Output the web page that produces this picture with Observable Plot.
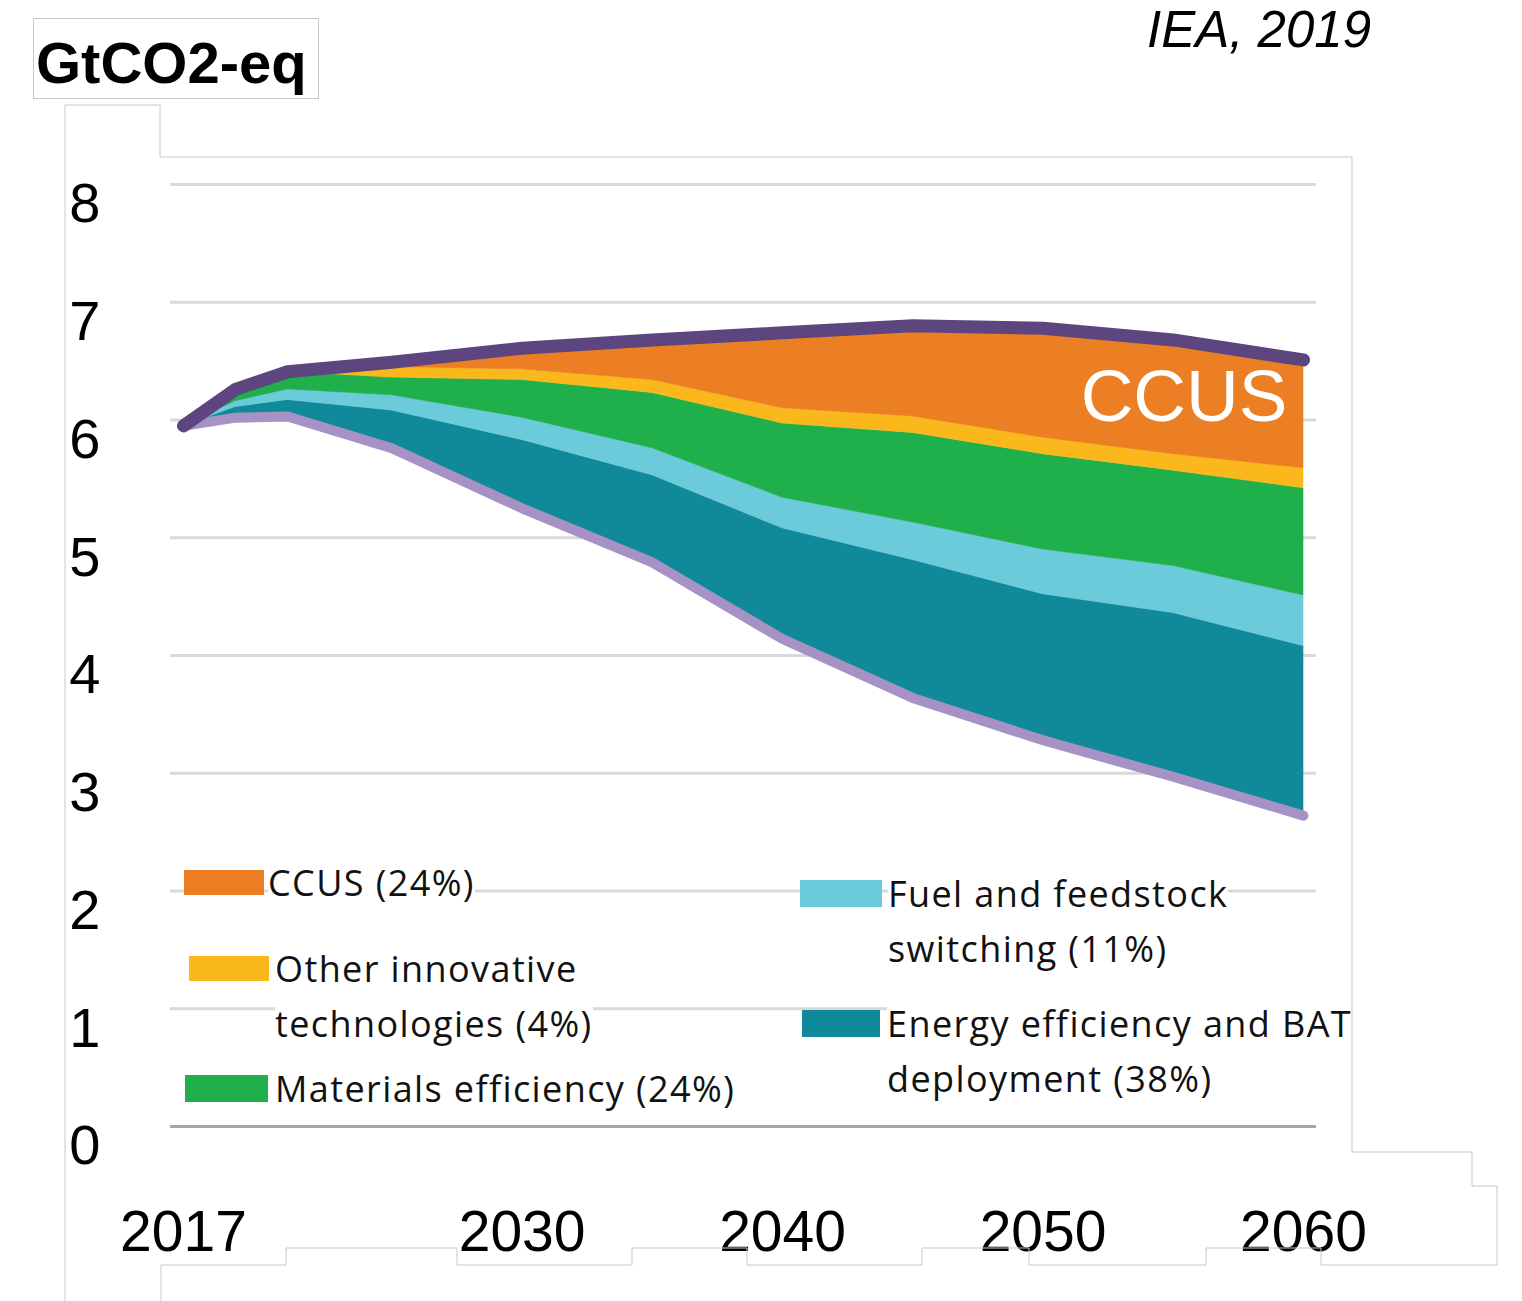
<!DOCTYPE html>
<html>
<head>
<meta charset="utf-8">
<script src="https://cdn.jsdelivr.net/npm/d3@7"></script>
<script src="https://cdn.jsdelivr.net/npm/@observablehq/plot@0.6"></script>
<style>
  html, body { margin: 0; padding: 0; background: #fff; }
  #wrap { position: relative; width: 1522px; height: 1301px; overflow: hidden; background: #fff; }
  #chart { position: absolute; left: 0; top: 0; }
  #deco { position: absolute; left: 0; top: 0; pointer-events: none; }
  .unit { position: absolute; left: 33px; top: 18px; width: 284px; height: 79px; border: 1px solid #c8c8c8; background: #fff; }
  .unit span { position: absolute; left: 2px; top: 15px; font-family: "Liberation Sans", Arial, sans-serif; font-weight: bold; font-size: 58px; line-height: 58px; color: #000; white-space: nowrap; }
  .source { position: absolute; left: 1147px; top: 4px; font-family: "Liberation Sans", Arial, sans-serif; font-style: italic; font-size: 51px; line-height: 51px; color: #000; white-space: nowrap; }
  .sw { position: absolute; }
  .lt { position: absolute; font-family: "Open Sans", "Noto Sans", sans-serif; font-size: 36px; letter-spacing: 1.4px; line-height: 55px; color: #111; background: #fff; white-space: nowrap; }
</style>
</head>
<body>
<div id="wrap">
  <div id="chart"></div>
  <div class="unit"><span id="unitText"></span></div>
  <div class="source" id="sourceText"></div>
  <div id="legend"></div>
  <svg id="deco" width="1522" height="1301">
    <path d="M65,1301 V105 H160 V157 H1352 V1152 H1472 V1186 H1497 V1265 H1321 V1248 H1206 V1265 H1029 V1248 H922 V1265 H747 V1248 H632 V1265 H457 V1248 H286 V1265 H161 V1301" fill="none" stroke="#c8c8c8" stroke-width="1"/>
  </svg>
</div>
<script>
// ---------------- data ----------------
const unitLabel = "GtCO2-eq";
const sourceLabel = "IEA, 2019";
const years = [2017, 2019, 2021, 2025, 2030, 2035, 2040, 2045, 2050, 2055, 2060];
// upper line (reference technology pathway)
const baseline    = [5.95, 6.26, 6.41, 6.49, 6.61, 6.68, 6.74, 6.80, 6.78, 6.68, 6.51];
// lower line (sustainable pathway)
const sustainable = [5.95, 6.02, 6.03, 5.76, 5.25, 4.79, 4.14, 3.64, 3.28, 2.97, 2.64];
// reduction wedges, stacked from the lower line upwards
const energyEfficiency = [0, 0.09, 0.14, 0.32, 0.58, 0.74, 0.94, 1.17, 1.24, 1.39, 1.44];
const fuelSwitching    = [0, 0.05, 0.09, 0.13, 0.19, 0.23, 0.26, 0.32, 0.38, 0.40, 0.43];
const materialsEff     = [0, 0.09, 0.15, 0.15, 0.32, 0.47, 0.63, 0.76, 0.81, 0.81, 0.91];
const otherInnovative  = [0, 0, 0, 0.09, 0.09, 0.11, 0.13, 0.14, 0.14, 0.14, 0.17];
const ccus             = [0, 0, 0, 0.04, 0.19, 0.35, 0.64, 0.76, 0.93, 0.97, 0.92];

const seriesNames  = ["Energy efficiency and BAT deployment", "Fuel and feedstock switching", "Materials efficiency", "Other innovative technologies", "CCUS"];
const seriesValues = [energyEfficiency, fuelSwitching, materialsEff, otherInnovative, ccus];
const seriesColors = ["#108998", "#6ccbdb", "#20b04b", "#fbb81d", "#ec7e23"];
const seriesShares = ["38%", "11%", "24%", "4%", "24%"];
const yTicks = [0, 1, 2, 3, 4, 5, 6, 7, 8];
const xTicks = [2017, 2030, 2040, 2050, 2060];
const wedgeLabel = "CCUS";

// legend text (as in the picture)
const legendLines = {
  "CCUS": ["CCUS (24%)"],
  "Other innovative technologies": ["Other innovative", "technologies (4%)"],
  "Materials efficiency": ["Materials efficiency (24%)"],
  "Fuel and feedstock switching": ["Fuel and feedstock", "switching (11%)"],
  "Energy efficiency and BAT deployment": ["Energy efficiency and BAT", "deployment (38%)"]
};
// legend layout (positions only)
const legendLayout = {
  "CCUS": {sx: 184, sy: 870, sw: 80, sh: 25, tx: 268, ty: 882},
  "Other innovative technologies": {sx: 189, sy: 956, sw: 80, sh: 25, tx: 275, ty: 968},
  "Materials efficiency": {sx: 185, sy: 1075, sw: 83, sh: 27, tx: 275, ty: 1088},
  "Fuel and feedstock switching": {sx: 800, sy: 880, sw: 82, sh: 27, tx: 888, ty: 893},
  "Energy efficiency and BAT deployment": {sx: 802, sy: 1010, sw: 78, sh: 27, tx: 887, ty: 1023}
};

// ---------------- build table ----------------
const rows = [];
years.forEach((yr, i) => {
  let cum = sustainable[i];
  seriesNames.forEach((name, k) => {
    const v = seriesValues[k][i];
    rows.push({year: yr, series: name, y1: cum, y2: cum + v});
    cum += v;
  });
});
const topLine = years.map((yr, i) => ({year: yr, v: baseline[i]}));
const lowLine = years.map((yr, i) => ({year: yr, v: sustainable[i]}));
const last = years.length - 1;
const labelRow = [{year: years[last], v: baseline[last] - ccus[last] / 2}];

const chart = Plot.plot({
  width: 1522,
  height: 1301,
  marginLeft: 170,
  marginRight: 206,
  marginTop: 184,
  marginBottom: 175,
  style: {fontFamily: "'Liberation Sans', Arial, sans-serif", color: "#000", background: "transparent"},
  x: {type: "linear", domain: [years[0], years[last]], insetLeft: 13, insetRight: 13, label: null},
  y: {domain: [0, 8], label: null},
  color: {domain: seriesNames, range: seriesColors},
  marks: [
    Plot.gridY(yTicks.filter(d => d > 0), {stroke: "#d9d9d9", strokeWidth: 3, strokeOpacity: 1}),
    Plot.ruleY([0], {stroke: "#a6a6a6", strokeWidth: 3}),
    Plot.areaY(rows, {x: "year", y1: "y1", y2: "y2", z: "series", fill: "series", stroke: "series", strokeWidth: 0.6}),
    Plot.line(lowLine, {x: "year", y: "v", stroke: "#a692c4", strokeWidth: 10, strokeLinecap: "round", strokeLinejoin: "round"}),
    Plot.line(topLine, {x: "year", y: "v", stroke: "#5d4580", strokeWidth: 13, strokeLinecap: "round", strokeLinejoin: "round"}),
    Plot.text(labelRow, {x: "year", y: "v", text: () => wedgeLabel, textAnchor: "end", dx: -16, dy: -16, fill: "#fff", fontSize: 73}),
    Plot.axisY(yTicks, {tickSize: 0, tickPadding: 70, fontSize: 56, dy: 20, tickFormat: d => String(d), label: null}),
    Plot.axisX(xTicks, {tickSize: 0, tickPadding: 84, fontSize: 57, tickFormat: d => String(d), label: null})
  ]
});
document.getElementById("chart").appendChild(chart);

document.getElementById("unitText").textContent = unitLabel;
document.getElementById("sourceText").textContent = sourceLabel;

// legend
const legend = document.getElementById("legend");
seriesNames.slice().reverse().forEach(name => {
  const k = seriesNames.indexOf(name);
  const L = legendLayout[name];
  const sw = document.createElement("div");
  sw.className = "sw";
  Object.assign(sw.style, {left: L.sx + "px", top: L.sy + "px", width: L.sw + "px", height: L.sh + "px", background: seriesColors[k]});
  legend.appendChild(sw);
  const tx = document.createElement("div");
  tx.className = "lt";
  Object.assign(tx.style, {left: L.tx + "px", top: (L.ty - 27.5) + "px"});
  tx.innerHTML = legendLines[name].join("<br>");
  legend.appendChild(tx);
});
</script>
</body>
</html>
